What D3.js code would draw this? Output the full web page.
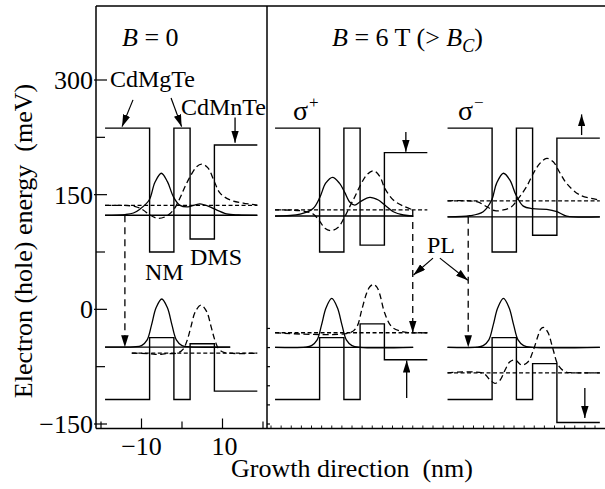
<!DOCTYPE html>
<html><head><meta charset="utf-8">
<script src="https://cdn.jsdelivr.net/npm/d3@7"></script>
<style>
body{margin:0;background:#fff}
svg{display:block}
text{font-family:"Liberation Serif","Times New Roman",serif;fill:#000;white-space:pre}
</style>
</head><body>
<svg id="c" width="605" height="489"></svg>
<script>
// ---------------- DATA (nm, meV) ----------------
const panelNames = ["B = 0", "σ+", "σ−"];
const regionEdges = [-19, -8, -2, 2, 8, 18.6];       // CdMgTe | NM | CdMgTe | DMS | CdMnTe
// conduction band edge per region
const cbB0 = [237, 75, 237, 92, 215];
const cbSp = [237, 75, 237, 84, 205];
const cbSm = [237, 75, 237, 97, 224];
// valence band edge per region
const vbB0 = [-118, -37, -118, -45, -107];
const vbSp = [-118, -37, -118, -19, -66];
const vbSm = [-118, -37, -118, -71, -148];

// energy levels (one value per panel: B=0, σ+, σ−)
const cbLevelSolid = [123, 122, 121];
const cbLevelSolidEnd = [18.6, 15.1, 18.6];
const cbLevelDashed = [136, 130, 142];
const vbLevelSolid = [-49.5, -49.7, -49.7];
const vbLevelSolidEnd = [11.9, 15.1, 18.6];
const vbLevelDashed = [-57.3, -30.6, -83];
const vbLevelDashedStart = [-12.4, -19, -19];

// wave functions
const wfCbSolidB0 = [[-19,123],[-14,124],[-12,126],[-10.4,131],[-8.1,143],[-6.7,166],[-5.1,178],[-3.6,167],[-2.1,147],[-0.5,136],[1.5,134],[4.4,138],[6.9,134],[8.1,131],[11,125],[14,123.5],[18.6,123]];
const wfCbDashB0  = [[-19,136],[-15,136],[-11.5,134.5],[-9.6,130],[-8.1,124],[-5.9,119],[-3.8,122],[-2.1,130],[-0.5,145.6],[0.7,160],[2,173.5],[3.6,186.6],[4.9,190],[6.4,185],[8,167],[9.4,152],[11.9,143],[15.1,139],[18.6,136.4]];
const wfVbSolidB0 = [[-19,-49.5],[-12,-49],[-10,-47.5],[-8.6,-40],[-7.5,-20],[-6.4,2],[-5,13.5],[-3.6,2],[-2.5,-20],[-1.4,-40],[0,-47.5],[2,-49],[11.9,-49.5]];
const wfVbDashB0  = [[-12.4,-57.3],[-8,-58],[-6,-59],[-4,-58],[-1,-57],[0.3,-52],[1.3,-40],[2.2,-23],[3.3,-3],[4.7,5.6],[6.1,-3],[7.2,-23],[8.1,-40],[9.1,-52],[10.5,-56.5],[18.6,-57.3]];

const wfCbSolidSp = [[-19,122],[-12.8,124.7],[-9.6,132],[-7.9,147],[-6.5,165],[-4.8,172.7],[-3.1,165],[-1.8,153],[-0.5,140],[0.7,136.4],[2.1,141],[4.4,146.5],[6.5,143],[8.1,136.4],[10.2,127.7],[12.7,123.4],[15.1,122]];
const wfCbDashSp  = [[-19,130],[-12,128.6],[-9.6,124.7],[-7.9,114.6],[-6.7,106],[-5.2,102.8],[-3.4,107.3],[-2,119],[-0.5,135],[0.7,147.3],[2.1,162.6],[3.6,175.7],[5.3,181.3],[6.9,173.5],[8.1,158.3],[10.2,143],[12.7,135],[15.1,130]];
const wfVbSolidSp = [[-19,-49.7],[-11.5,-49.5],[-10,-47.5],[-8.6,-40],[-7.5,-20],[-6.4,2],[-5,14.4],[-3.6,2],[-2.5,-20],[-1.4,-40],[0,-47.5],[2,-49.7],[15.1,-49.7]];
const wfVbDashSp  = [[-19,-30.6],[-0.5,-30.6],[1.2,-22.8],[2.4,-0.9],[3.6,20.9],[4.4,29.5],[5.3,32.7],[6.1,29.5],[6.8,20.9],[8.1,-5.2],[9.8,-22.8],[11.9,-28.4],[14.3,-30.6],[18.6,-30.6]];

const wfCbSolidSm = [[-19,121],[-13.5,122.4],[-10.2,127.7],[-8.1,143],[-6.9,164.8],[-5.2,178],[-3.6,169],[-2.1,149.5],[-0.3,135],[2,131.6],[5.5,130.8],[8,127.7],[10.4,122],[18.6,121]];
const wfCbDashSm  = [[-19,142],[-11.8,140.8],[-9.3,134.2],[-7.3,129],[-5.2,130],[-3.2,134.2],[-1.5,145.2],[0.5,160.4],[2.2,178],[3.8,191],[5.5,197.5],[7.1,193],[8.8,178],[10.4,164.8],[13.7,149.5],[18.6,143]];
const wfVbSolidSm = [[-19,-49.7],[-11.7,-49.5],[-10.2,-47.5],[-8.8,-40],[-7.7,-20],[-6.6,2],[-5.2,14.4],[-3.8,2],[-2.7,-20],[-1.6,-40],[-0.2,-47.5],[2,-49.7],[18.6,-49.7]];
const wfVbDashSm  = [[-19,-83],[-10.2,-83.7],[-8.5,-92.4],[-7.3,-96.8],[-6,-92.4],[-4.8,-79.4],[-3.6,-68.5],[-2.3,-66.3],[-0.7,-72.9],[0.9,-68.5],[2.2,-53.2],[3.4,-33.6],[4,-26],[4.6,-23.5],[5.2,-25.5],[5.9,-31.4],[7.1,-53.2],[8.3,-72.9],[10,-81.6],[12,-83],[18.6,-83]];

// PL transitions (x in nm, from CB level to VB level)
const plX = [-14.1, 15.0, -13.9];
const plFrom = [123, 130, 121];
const plTo = [-49.5, -30.6, -49.7];

// band-offset arrows: panel, x (nm), from, to (meV)
const offsetArrows = [[0, 13.1, 251, 218], [1, 13.3, 232, 206], [2, 14.1, 228, 255], [1, 13.5, -116, -67], [2, 14.9, -103, -142]];

// axis ticks
const yTicksMajor = [300, 150, 0, -150];
const yTickLabels = ["300", "150", "0", "\u2212150"];
const yTicksMinor = [225, 75, -75];
const yTicksDivider = [-25, -50, -75, -100, -125, -150];
const xTicksMajor = [-10, 10];
const xTickLabels = ["\u221210", "10"];
const xTicksMinor = [-20, 0, 20];
const xTicksRight = d3.range(-20, 63, 2.5);

// ---------------- DRAW ----------------
const svg = d3.select("#c");
const y = d3.scaleLinear().domain([-150, 300]).range([424, 80]);
const panelCenters = [182, 352, 524.5];
const xs = panelCenters.map(c => d3.scaleLinear().domain([-20, 20]).range([c - 81, c + 81]));

const defs = svg.append("defs");
defs.append("marker").attr("id", "ah").attr("viewBox", "0 0 10 10")
  .attr("refX", 10).attr("refY", 5).attr("markerWidth", 12).attr("markerHeight", 7.5)
  .attr("markerUnits", "userSpaceOnUse").attr("orient", "auto").attr("preserveAspectRatio", "none")
  .append("path").attr("d", "M0,0L10,5L0,10z").attr("fill", "#000");

const fTop = 6, fBottom = 428.5, fLeft = 96, fDivider = 267, fRight = 605;
const frame = svg.append("g").attr("stroke", "#000").attr("stroke-width", 1.5).attr("fill", "none");
frame.append("line").attr("x1", fLeft).attr("x2", fRight).attr("y1", fTop).attr("y2", fTop);
frame.append("line").attr("x1", fLeft).attr("x2", fRight).attr("y1", fBottom).attr("y2", fBottom);
frame.append("line").attr("x1", fLeft).attr("x2", fLeft).attr("y1", fTop).attr("y2", fBottom);
frame.append("line").attr("x1", fDivider).attr("x2", fDivider).attr("y1", fTop).attr("y2", fBottom);

// y ticks
const tk = svg.append("g").attr("stroke", "#000").attr("stroke-width", 1.2);
yTicksMajor.forEach(v => tk.append("line").attr("x1", fLeft - 2).attr("x2", fLeft + 11).attr("y1", y(v)).attr("y2", y(v)));
yTicksMinor.forEach(v => tk.append("line").attr("x1", fLeft).attr("x2", fLeft + 9).attr("y1", y(v)).attr("y2", y(v)));
yTicksDivider.forEach(v => tk.append("line").attr("x1", fDivider).attr("x2", fDivider + 3).attr("y1", y(v)).attr("y2", y(v)));
xTicksMajor.forEach(v => tk.append("line").attr("x1", xs[0](v)).attr("x2", xs[0](v)).attr("y1", fBottom).attr("y2", fBottom - 10));
xTicksMinor.forEach(v => tk.append("line").attr("x1", xs[0](v)).attr("x2", xs[0](v)).attr("y1", fBottom).attr("y2", fBottom - 7));
xTicksRight.filter(v => xs[1](v) > fDivider + 2 && xs[1](v) < fRight).forEach(v =>
  tk.append("line").attr("x1", xs[1](v)).attr("x2", xs[1](v)).attr("y1", fBottom).attr("y2", fBottom - 3).attr("stroke-width", 0.9));

yTicksMajor.forEach((v, i) => svg.append("text").attr("x", 93).attr("y", y(v)).attr("dy", "0.34em")
  .attr("text-anchor", "end").attr("font-size", 26).text(yTickLabels[i]));
xTicksMajor.forEach((v, i) => svg.append("text").attr("x", xs[0](v) + (i ? 2 : 0)).attr("y", 455)
  .attr("text-anchor", "middle").attr("font-size", 26).text(xTickLabels[i]));

svg.append("text").attr("x", 352).attr("y", 477).attr("text-anchor", "middle").attr("font-size", 26)
  .text("Growth direction  (nm)");
svg.append("text").attr("transform", "translate(32,241) rotate(-90)").attr("text-anchor", "middle")
  .attr("font-size", 26).text("Electron (hole) energy  (meV)");

// bands, levels, wavefunctions
const cbs = [cbB0, cbSp, cbSm], vbs = [vbB0, vbSp, vbSm];
const wfs = [
  [wfCbSolidB0, wfCbDashB0, wfVbSolidB0, wfVbDashB0],
  [wfCbSolidSp, wfCbDashSp, wfVbSolidSp, wfVbDashSp],
  [wfCbSolidSm, wfCbDashSm, wfVbSolidSm, wfVbDashSm]];

xs.forEach((x, p) => {
  const g = svg.append("g").attr("fill", "none").attr("stroke", "#000");
  const step = d3.line().x(d => x(d[0])).y(d => y(d[1])).curve(d3.curveStepAfter);
  [cbs[p], vbs[p]].forEach(lv => {
    const pts = regionEdges.map((e, i) => [e, lv[Math.min(i, lv.length - 1)]]);
    g.append("path").attr("d", step(pts)).attr("stroke-width", 1.4);
  });
  const hl = (x1, x2, v, dash) => g.append("line").attr("x1", x(x1)).attr("x2", x(x2))
    .attr("y1", y(v)).attr("y2", y(v)).attr("stroke-width", dash ? 1.3 : 1.4)
    .attr("stroke-dasharray", dash ? "4,2.5" : null);
  hl(-19, cbLevelSolidEnd[p], cbLevelSolid[p], false);
  hl(-19, 18.6, cbLevelDashed[p], true);
  hl(-19, vbLevelSolidEnd[p], vbLevelSolid[p], false);
  hl(vbLevelDashedStart[p], 18.6, vbLevelDashed[p], true);
  const curve = d3.line().x(d => x(d[0])).y(d => y(d[1])).curve(d3.curveCatmullRom.alpha(0.5));
  wfs[p].forEach((w, i) => g.append("path").attr("d", curve(w)).attr("stroke-width", 1.3)
    .attr("stroke-dasharray", i % 2 ? "6,3.5" : null));
  // PL transition arrow
  g.append("line").attr("x1", x(plX[p])).attr("x2", x(plX[p])).attr("y1", y(plFrom[p])).attr("y2", y(plTo[p]))
    .attr("stroke-width", 1.3).attr("stroke-dasharray", "7,5").attr("marker-end", "url(#ah)");
});

// band-offset arrows
offsetArrows.forEach(([p, xv, a, b]) => svg.append("line").attr("stroke", "#000").attr("stroke-width", 1.3)
  .attr("x1", xs[p](xv)).attr("x2", xs[p](xv)).attr("y1", y(a)).attr("y2", y(b)).attr("marker-end", "url(#ah)"));

// pointer arrows
const ptr = (x1, y1, x2, y2) => svg.append("line").attr("stroke", "#000").attr("stroke-width", 1.2)
  .attr("x1", x1).attr("y1", y1).attr("x2", x2).attr("y2", y2).attr("marker-end", "url(#ah)");
ptr(xs[0](-12.1), y(274), xs[0](-14.8), y(239));
ptr(xs[0](-2.7), y(276.5), xs[0](-0.1), y(239));
ptr(xs[1](20.0), y(67), xs[1](15.2), y(45));
ptr(xs[2](-20.9), y(67), xs[2](-14.0), y(38));

// labels
const t1 = svg.append("text").attr("x", 122).attr("y", 46).attr("font-size", 26);
t1.append("tspan").attr("font-style", "italic").text("B");
t1.append("tspan").text(" = 0");
const t2 = svg.append("text").attr("x", 332).attr("y", 46).attr("font-size", 26);
t2.append("tspan").attr("font-style", "italic").text("B");
t2.append("tspan").text(" = 6 T (> ");
t2.append("tspan").attr("font-style", "italic").text("B");
t2.append("tspan").attr("font-style", "italic").attr("font-size", 18).attr("dy", 6).text("C");
t2.append("tspan").attr("dy", -6).text(")");

svg.append("text").attr("x", 110).attr("y", 87).attr("font-size", 24).text("CdMgTe");
svg.append("text").attr("x", 181).attr("y", 115).attr("font-size", 24).text("CdMnTe");
svg.append("text").attr("x", 145).attr("y", 280).attr("font-size", 24).text("NM");
svg.append("text").attr("x", 190).attr("y", 265).attr("font-size", 24).text("DMS");
svg.append("text").attr("x", 427).attr("y", 253).attr("font-size", 24).text("PL");
[[293, "+"], [458, "\u2212"]].forEach(([xx, s]) => {
  const t = svg.append("text").attr("x", xx).attr("y", 120).attr("font-size", 28);
  t.append("tspan").text("σ");
  t.append("tspan").attr("font-size", 17).attr("dy", -12).attr("dx", 1).text(s);
});
</script>
</body></html>
